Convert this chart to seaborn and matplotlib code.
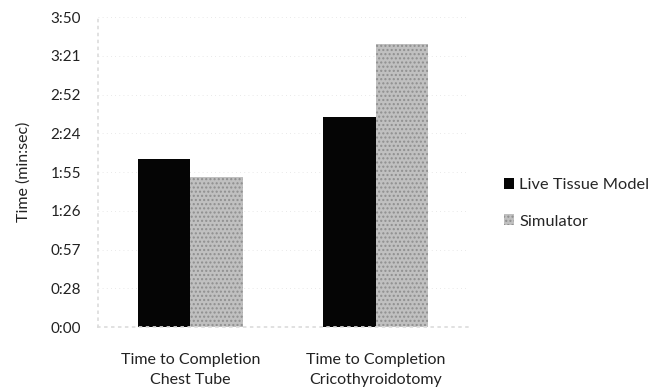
import matplotlib
matplotlib.use("Agg")
import matplotlib.pyplot as plt
import seaborn as sns
import pandas as pd

categories = ["Time to Completion\nChest Tube", "Time to Completion\nCricothyroidotomy"]
series_names = ["Live Tissue Model", "Simulator"]
live_tissue_sec = [125, 156]
simulator_sec = [111, 210]
ytick_values = [0, 28.75, 57.5, 86.25, 115, 143.75, 172.5, 201.25, 230]
ytick_labels = ["0:00", "0:28", "0:57", "1:26", "1:55", "2:24", "2:52", "3:21", "3:50"]

df = pd.DataFrame({
    "category": categories * 2,
    "series": [series_names[0]] * 2 + [series_names[1]] * 2,
    "seconds": live_tissue_sec + simulator_sec,
})

sns.set_theme(style="white")
plt.rcParams["font.family"] = ["Lato", "DejaVu Sans"]

fig = plt.figure(figsize=(6.65, 3.88), dpi=100)
ax = fig.add_axes([0.147, 0.157, 0.557, 0.799])

sns.barplot(data=df, x="category", y="seconds", hue="series",
            palette={"Live Tissue Model": "#050505", "Simulator": "#c0c0c0"},
            width=0.57, linewidth=0, ax=ax, legend=True)

for p in ax.patches:
    if abs(p.get_facecolor()[0] - 0.75) < 0.05:
        p.set_hatch("....")
        p.set_edgecolor("#8f8f8f")
        p.set_linewidth(0)

ax.set_ylim(0, 230)
ax.set_yticks(ytick_values)
ax.set_yticklabels(ytick_labels, fontsize=11, color="#222222")
ax.set_ylabel("Time (min:sec)", fontsize=11.5, color="#222222", labelpad=14)
ax.set_xlabel("")
ax.tick_params(axis="x", labelsize=11.5, colors="#222222", pad=19, length=0)
ax.tick_params(axis="y", pad=12, length=0)
for lbl in ax.get_xticklabels():
    lbl.set_linespacing(1.5)
ax.yaxis.grid(True, color="#e2e2e2", linestyle=(0, (1, 4)), linewidth=0.6)
ax.set_axisbelow(True)
for s in ax.spines.values():
    s.set_visible(False)
ax.spines["left"].set_visible(True)
ax.spines["left"].set_color("#dddddd")
ax.spines["left"].set_linestyle((0, (1, 3)))
ax.spines["bottom"].set_visible(True)
ax.spines["bottom"].set_color("#dddddd")
ax.spines["bottom"].set_linestyle((0, (1, 3)))

handles, labels = ax.get_legend_handles_labels()
ax.legend(handles, labels, loc="center left", bbox_to_anchor=(0.735, 0.476),
          bbox_transform=fig.transFigure, frameon=False, fontsize=11.8,
          handlelength=0.65, handleheight=0.65, handletextpad=0.3, labelspacing=1.35)

fig.savefig("out.png", dpi=100)
